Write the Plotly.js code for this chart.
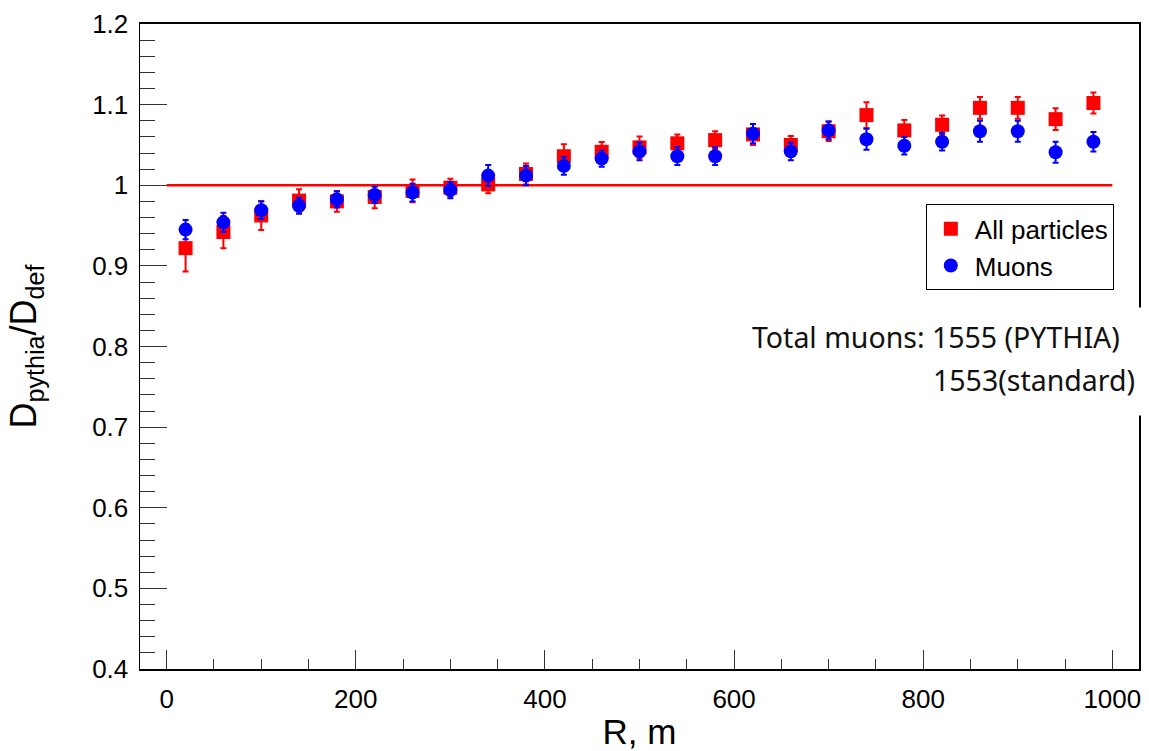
<!DOCTYPE html>
<html>
<head>
<meta charset="utf-8">
<script src="https://cdn.plot.ly/plotly-3.0.1.min.js"></script>
<style>html,body{margin:0;padding:0;background:#fff;}#chart{width:1149px;height:751px;}</style>
</head>
<body>
<div id="chart"></div>
<script>
// ---- data ----
const radius = [20, 60, 100, 140, 180, 220, 260, 300, 340, 380, 420, 460, 500, 540, 580, 620, 660, 700, 740, 780, 820, 860, 900, 940, 980];
const allParticles = [0.922, 0.942, 0.9625, 0.981, 0.980, 0.9855, 0.993, 0.997, 1.001, 1.014, 1.036, 1.0415, 1.047, 1.052, 1.056, 1.063, 1.050, 1.067, 1.087, 1.068, 1.075, 1.096, 1.096, 1.082, 1.102];
const allParticlesErr = [0.029, 0.020, 0.018, 0.014, 0.013, 0.014, 0.014, 0.011, 0.011, 0.013, 0.015, 0.012, 0.0135, 0.011, 0.011, 0.013, 0.011, 0.012, 0.016, 0.013, 0.0115, 0.0135, 0.0135, 0.0135, 0.013];
const muons = [0.945, 0.954, 0.969, 0.9745, 0.9825, 0.988, 0.991, 0.994, 1.012, 1.012, 1.024, 1.033, 1.042, 1.036, 1.036, 1.064, 1.042, 1.068, 1.057, 1.049, 1.054, 1.067, 1.067, 1.041, 1.054];
const muonsErr = [0.012, 0.012, 0.011, 0.010, 0.010, 0.010, 0.011, 0.010, 0.013, 0.012, 0.011, 0.010, 0.011, 0.011, 0.011, 0.012, 0.011, 0.011, 0.013, 0.011, 0.011, 0.013, 0.013, 0.013, 0.012];
const refLineX = [0, 1000];
const refLineY = [1, 1];
const seriesNames = ["All particles", "Muons"];
const infoLines = ["Total muons: 1555 (PYTHIA)", "1553(standard)"];

const RED = "#ff0000", BLUE = "#0000ff";
const tickFont = {family: "Liberation Sans, Arial, sans-serif", size: 26, color: "#000"};

const traces = [
  {x: refLineX, y: refLineY, mode: "lines", line: {color: RED, width: 2.5}, showlegend: false, hoverinfo: "skip"},
  {x: radius, y: allParticles, name: seriesNames[0], mode: "markers", type: "scatter",
   marker: {symbol: "square", size: 14, color: RED},
   error_y: {type: "data", array: allParticlesErr, color: RED, thickness: 2, width: 3}},
  {x: radius, y: muons, name: seriesNames[1], mode: "markers", type: "scatter",
   marker: {symbol: "circle", size: 14, color: BLUE},
   error_y: {type: "data", array: muonsErr, color: BLUE, thickness: 2, width: 3}}
];

const layout = {
  width: 1149, height: 751,
  margin: {l: 140, r: 10, t: 24, b: 82, pad: 0},
  paper_bgcolor: "#fff", plot_bgcolor: "#fff",
  showlegend: true,
  xaxis: {
    range: [-28.2, 1028.2], tickvals: [0, 200, 400, 600, 800, 1000],
    ticks: "inside", ticklen: 19, tickwidth: 1, tickcolor: "#333",
    minor: {dtick: 50, tick0: 0, ticks: "inside", ticklen: 10, tickwidth: 1, tickcolor: "#333"},
    showgrid: false, zeroline: false,
    showline: true, linecolor: "#000", linewidth: 2, mirror: true,
    tickfont: tickFont, ticklabelstandoff: 6,
    title: {text: "R, m", font: {family: "Liberation Sans, Arial, sans-serif", size: 35, color: "#000"}, standoff: 6}
  },
  yaxis: {
    range: [0.4, 1.2], tickvals: [0.4, 0.5, 0.6, 0.7, 0.8, 0.9, 1, 1.1, 1.2],
    ticktext: ["0.4", "0.5", "0.6", "0.7", "0.8", "0.9", "1", "1.1", "1.2"],
    ticks: "inside", ticklen: 27, tickwidth: 1, tickcolor: "#333",
    minor: {dtick: 0.02, tick0: 0.4, ticks: "inside", ticklen: 15, tickwidth: 1, tickcolor: "#333"},
    showgrid: false, zeroline: false,
    showline: true, linecolor: "#000", linewidth: 1.5, mirror: true,
    tickfont: tickFont, ticklabelstandoff: 5,
    title: {text: "D<sub>pythia</sub>/D<sub>def</sub>", font: {family: "Liberation Sans, Arial, sans-serif", size: 36, color: "#000"}, standoff: 44}
  },
  legend: {
    x: 0.7866, y: 0.7205, xanchor: "left", yanchor: "top",
    bgcolor: "#fff", bordercolor: "#000", borderwidth: 1,
    font: {family: "Liberation Sans, Arial, sans-serif", size: 26, color: "#000"},
    itemwidth: 38, tracegroupgap: 0
  },
  annotations: [
    {xref: "paper", yref: "paper", x: 0.9993, y: 0.476, xanchor: "center", yanchor: "middle",
     text: " ", showarrow: false, bgcolor: "#fff", width: 12, height: 105},
    {xref: "paper", yref: "paper", x: 0.9827, y: 0.515, xanchor: "right", yanchor: "middle",
     text: infoLines[0], showarrow: false, font: {family: "Noto Sans, Open Sans, sans-serif", size: 28.5, color: "#111"}},
    {xref: "paper", yref: "paper", x: 0.998, y: 0.4483, xanchor: "right", yanchor: "middle",
     text: infoLines[1], showarrow: false, font: {family: "Noto Sans, Open Sans, sans-serif", size: 28.5, color: "#111"}}
  ]
};

Plotly.newPlot("chart", traces, layout, {displayModeBar: false, staticPlot: true});
</script>
</body>
</html>
